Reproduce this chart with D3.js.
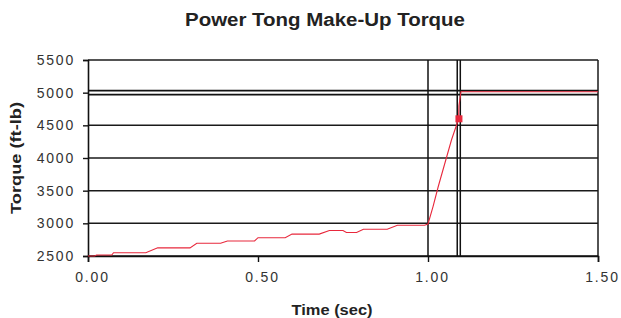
<!DOCTYPE html>
<html>
<head>
<meta charset="utf-8">
<script src="https://cdn.jsdelivr.net/npm/d3@7"></script>
<style>
  body { margin: 0; background: #fff; }
  svg { display: block; font-family: "Liberation Sans", Arial, sans-serif; }
</style>
</head>
<body>
<div id="chart"></div>
<script>
// torque trace
var timeSec = [0, 0.02, 0.025, 0.07, 0.075, 0.17, 0.205, 0.30, 0.32, 0.39, 0.41, 0.49, 0.50, 0.58, 0.60, 0.68, 0.71, 0.75, 0.76, 0.79, 0.81, 0.88, 0.91, 0.99, 1.00, 1.015, 1.03, 1.069, 1.084, 1.090, 1.091, 1.097, 1.50];
var torque = [2500, 2500, 2515, 2515, 2550, 2550, 2625, 2625, 2695, 2695, 2730, 2730, 2780, 2780, 2835, 2835, 2890, 2890, 2860, 2860, 2910, 2910, 2970, 2970, 2990, 3260, 3560, 4275, 4505, 4600, 4800, 5015, 5015];

// marker point and limit lines
var markTime = 1.091, markTorque = 4600;
var limitTorque = [4970, 5030];
var limitTime = [1.00, 1.086, 1.095];

var yTicks = [2500, 3000, 3500, 4000, 4500, 5000, 5500];
var xTicks = [0, 0.5, 1.0, 1.5];

var W = 621, H = 318;
var margin = { top: 60, right: 23, bottom: 62, left: 88 };
var w = W - margin.left - margin.right,
    h = H - margin.top - margin.bottom;

var svg = d3.select("#chart").append("svg")
    .attr("width", W)
    .attr("height", H);

var x = d3.scaleLinear().domain([0, 1.5]).range([0, w]);
var y = d3.scaleLinear().domain([2500, 5500]).range([h, 0]);

var g = svg.append("g").attr("transform", "translate(" + margin.left + "," + margin.top + ")");

// horizontal gridlines (skip 5000, the limit pair sits there)
g.selectAll("line.grid")
  .data(yTicks.filter(function (d) { return d !== 5000 && d !== 2500; }))
  .enter().append("line")
    .attr("class", "grid")
    .attr("x1", 0).attr("x2", w)
    .attr("y1", function (d) { return y(d); })
    .attr("y2", function (d) { return y(d); })
    .attr("stroke", "#1a1a1a")
    .attr("stroke-width", 1.5);

// right border
g.append("line")
  .attr("x1", w).attr("x2", w).attr("y1", 0).attr("y2", h)
  .attr("stroke", "#1a1a1a").attr("stroke-width", 1.5);

// limit lines
g.selectAll("line.hlim").data(limitTorque).enter().append("line")
  .attr("class", "hlim")
  .attr("x1", 0).attr("x2", w)
  .attr("y1", function (d) { return y(d); })
  .attr("y2", function (d) { return y(d); })
  .attr("stroke", "#111").attr("stroke-width", 1.8);

g.selectAll("line.vlim").data(limitTime).enter().append("line")
  .attr("class", "vlim")
  .attr("x1", function (d) { return x(d); })
  .attr("x2", function (d) { return x(d); })
  .attr("y1", 0).attr("y2", h)
  .attr("stroke", "#111").attr("stroke-width", 1.5);

// axes
var yAxis = g.append("g")
  .call(d3.axisLeft(y).tickValues(yTicks).tickSize(5).tickPadding(8).tickFormat(d3.format("d")));
var xAxis = g.append("g")
  .attr("transform", "translate(0," + h + ")")
  .call(d3.axisBottom(x).tickValues(xTicks).tickSize(6).tickPadding(10).tickFormat(d3.format(".2f")));

[yAxis, xAxis].forEach(function (a) {
  a.select(".domain").attr("stroke", "#111").attr("stroke-width", 1.6);
  a.selectAll(".tick line").attr("stroke", "#111").attr("stroke-width", 1.4);
  a.selectAll(".tick text").attr("fill", "#333")
    .style("font-size", "14px").style("letter-spacing", "1.8px");
});
xAxis.selectAll(".tick text").attr("dx", 4);

// bottom axis line drawn full width
g.append("line")
  .attr("x1", 0).attr("x2", w).attr("y1", h).attr("y2", h)
  .attr("stroke", "#111").attr("stroke-width", 1.6);

// torque trace
var pts = timeSec.map(function (t, i) { return [t, torque[i]]; });
g.append("path")
  .datum(pts)
  .attr("fill", "none")
  .attr("stroke", "#e8283c")
  .attr("stroke-width", 1.1)
  .attr("d", d3.line().x(function (d) { return x(d[0]); }).y(function (d) { return y(d[1]); }));

// marker
g.append("rect")
  .attr("x", x(markTime) - 3.5)
  .attr("y", y(markTorque) - 3.5)
  .attr("width", 7).attr("height", 7)
  .attr("fill", "#e8283c");

// titles
svg.append("text")
  .attr("x", 325).attr("y", 26)
  .attr("text-anchor", "middle")
  .attr("textLength", 280).attr("lengthAdjust", "spacingAndGlyphs")
  .style("font-size", "18px").style("font-weight", "bold")
  .attr("fill", "#222")
  .text("Power Tong Make-Up Torque");

svg.append("text")
  .attr("x", 332).attr("y", 315)
  .attr("text-anchor", "middle")
  .attr("textLength", 81).attr("lengthAdjust", "spacingAndGlyphs")
  .style("font-size", "14px").style("font-weight", "bold")
  .attr("fill", "#222")
  .text("Time (sec)");

svg.append("text")
  .attr("transform", "translate(21," + (margin.top + h / 2) + ") rotate(-90)")
  .attr("text-anchor", "middle")
  .attr("textLength", 112).attr("lengthAdjust", "spacingAndGlyphs")
  .style("font-size", "14px").style("font-weight", "bold")
  .attr("fill", "#222")
  .text("Torque (ft-lb)");
</script>
</body>
</html>
